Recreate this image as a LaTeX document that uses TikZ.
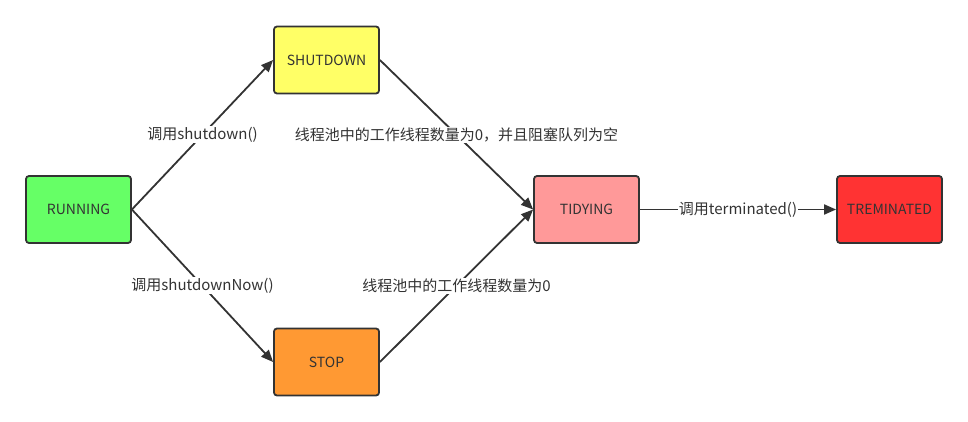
\documentclass[tikz,border=0pt]{standalone}
\usepackage{fontspec}
\setmainfont{Noto Sans CJK SC}
\usetikzlibrary{arrows.meta}
\definecolor{lc}{HTML}{333333}
\definecolor{cgreen}{HTML}{66FF66}
\definecolor{cyellow}{HTML}{FFFF66}
\definecolor{corange}{HTML}{FF9933}
\definecolor{cpink}{HTML}{FF9999}
\definecolor{cred}{HTML}{FF3333}
\tikzset{
  state/.style={draw=lc, line width=1.8pt, rounded corners=3pt, minimum width=105pt, minimum height=67pt, inner sep=0pt, text=lc, font=\fontsize{14}{16}\selectfont},
  conn/.style={draw=lc, line width=1.8pt, -{Triangle[length=12pt,width=10pt]}},
  lbl/.style={fill=white, inner sep=1pt, text=lc, font=\fontsize{15}{17}\selectfont}
}
\begin{document}
\begin{tikzpicture}[x=1pt,y=-1pt]
\useasboundingbox (0,0) rectangle (968,422);
\node[state, fill=cgreen] (run) at (78.5,209.5) {RUNNING};
\node[state, fill=cyellow] (shut) at (326.5,60) {SHUTDOWN};
\node[state, fill=corange] (stop) at (326.5,362) {STOP};
\node[state, fill=cpink] (tidy) at (586.5,209.5) {TIDYING};
\node[state, fill=cred] (term) at (889.5,209.5) {TREMINATED};
\draw[conn] (run.east) -- node[lbl] {调用shutdown()} (shut.west);
\draw[conn] (run.east) -- node[lbl] {调用shutdownNow()} (stop.west);
\draw[conn] (shut.east) -- node[lbl] {线程池中的工作线程数量为0，并且阻塞队列为空} (tidy.west);
\draw[conn] (stop.east) -- node[lbl] {线程池中的工作线程数量为0} (tidy.west);
\draw[conn] (tidy.east) -- node[lbl] {调用terminated()} (term.west);
\end{tikzpicture}
\end{document}
